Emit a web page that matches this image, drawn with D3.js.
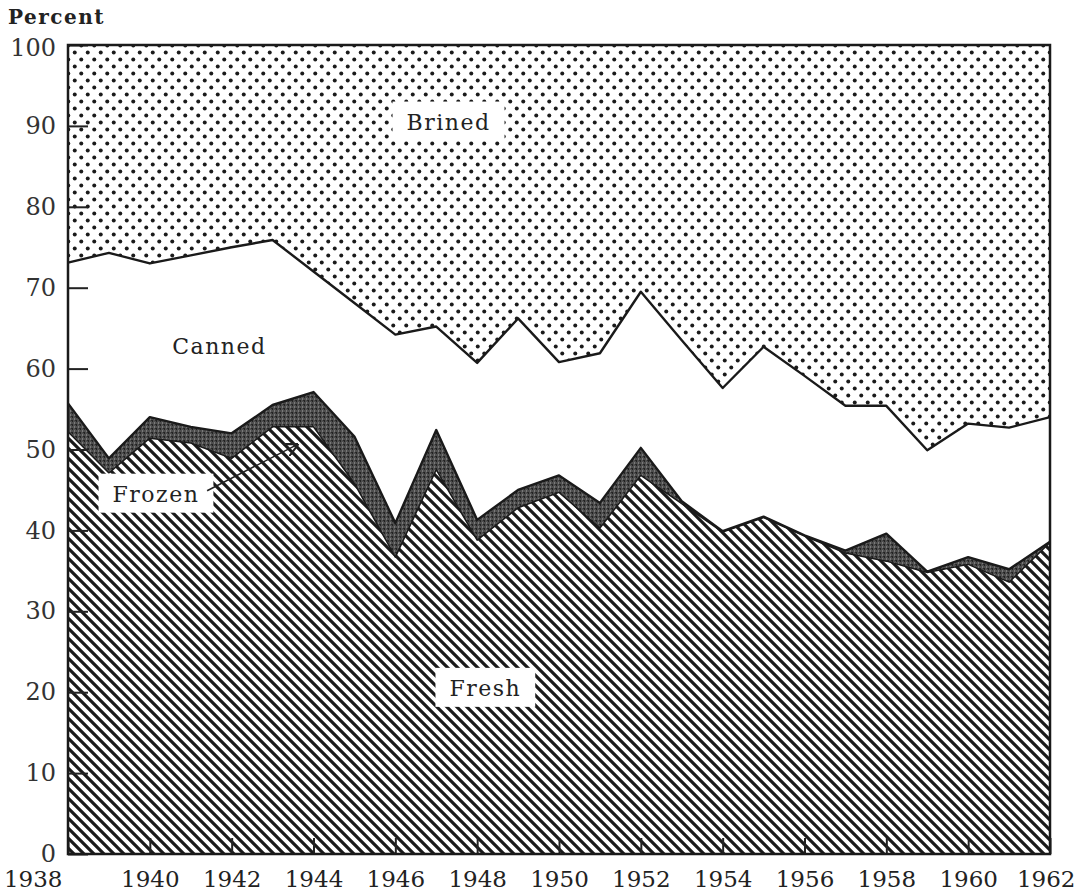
<!DOCTYPE html>
<html>
<head>
<meta charset="utf-8">
<script src="https://cdnjs.cloudflare.com/ajax/libs/d3/7.8.5/d3.min.js"></script>
<style>
  body { margin: 0; background: #fff; }
  text { font-family: "DejaVu Serif", "Liberation Serif", serif; fill: #222; }
</style>
</head>
<body>
<script>
const years = [1938, 1939, 1940, 1941, 1942, 1943, 1944, 1945, 1946, 1947, 1948, 1949, 1950,
               1951, 1952, 1953, 1954, 1955, 1956, 1957, 1958, 1959, 1960, 1961, 1962]
// percent of total use
const fresh  = [52.2, 47.1, 51.4, 50.8, 48.9, 52.8, 52.8, 45.8, 36.7, 47.5, 38.8, 42.8, 44.7,
                40.3, 46.8, 43.3, 39.8, 41.6, 39.3, 37.2, 36.2, 34.8, 35.8, 33.6, 38.5]
const frozen = [3.5, 1.8, 2.6, 2.0, 3.1, 2.7, 4.3, 5.8, 4.2, 4.9, 2.5, 2.2, 2.1,
                3.1, 3.4, 0.3, 0.1, 0.1, 0.1, 0.3, 3.4, 0.1, 0.9, 1.6, 0.1]
const canned = [17.4, 25.4, 19.0, 21.2, 23.0, 20.4, 14.9, 16.5, 23.3, 12.8, 19.4, 21.2, 14.0,
                18.5, 19.3, 19.9, 17.7, 21.0, 19.7, 17.9, 15.8, 15.0, 16.5, 17.5, 15.4]
const brined = [26.9, 25.7, 27.0, 26.0, 25.0, 24.1, 28.0, 31.9, 35.8, 34.8, 39.3, 33.8, 39.2,
                38.1, 30.5, 36.5, 42.4, 37.3, 40.9, 44.6, 44.6, 50.1, 46.8, 47.3, 46.0]
const series = ['Fresh', 'Frozen', 'Canned', 'Brined']
const yTicks = [0, 10, 20, 30, 40, 50, 60, 70, 80, 90, 100]
const xTicks = [1938, 1940, 1942, 1944, 1946, 1948, 1950, 1952, 1954, 1956, 1958, 1960, 1962]

const rows = years.map((yr, i) => ({
    year: yr, Fresh: fresh[i], Frozen: frozen[i], Canned: canned[i], Brined: brined[i]
}))

const W = 1078, H = 893
const x = d3.scaleLinear().domain([1938, 1962]).range([68, 1050])
const y = d3.scaleLinear().domain([0, 100]).range([854, 45])

const svg = d3.select('body').append('svg')
    .attr('width', W)
    .attr('height', H)

const defs = svg.append('defs')

// dots for brined
const dots = defs.append('pattern')
    .attr('id', 'dots')
    .attr('patternUnits', 'userSpaceOnUse')
    .attr('width', 13).attr('height', 14)
dots.append('rect').attr('width', 13).attr('height', 14).attr('fill', '#fff')
dots.append('circle').attr('cx', 3.25).attr('cy', 3.5).attr('r', 2).attr('fill', '#1a1a1a')
dots.append('circle').attr('cx', 9.75).attr('cy', 10.5).attr('r', 2).attr('fill', '#1a1a1a')

// diagonal hatch for fresh
const hatch = defs.append('pattern')
    .attr('id', 'hatch')
    .attr('patternUnits', 'userSpaceOnUse')
    .attr('width', 10).attr('height', 10)
hatch.append('rect').attr('width', 10).attr('height', 10).attr('fill', '#fff')
hatch.append('path')
    .attr('d', 'M-5,5 L5,15 M0,0 L10,10 M5,-5 L15,5')
    .attr('stroke', '#1a1a1a')
    .attr('stroke-width', 3.2)

// dark stipple for frozen
const stip = defs.append('pattern')
    .attr('id', 'stip')
    .attr('patternUnits', 'userSpaceOnUse')
    .attr('width', 4).attr('height', 4)
stip.append('rect').attr('width', 4).attr('height', 4).attr('fill', '#4e4e4e')
stip.append('rect').attr('x', 0).attr('y', 0).attr('width', 1).attr('height', 2).attr('fill', '#222')
stip.append('rect').attr('x', 2).attr('y', 2).attr('width', 1).attr('height', 2).attr('fill', '#7a7a7a')
stip.append('rect').attr('x', 3).attr('y', 0).attr('width', 1).attr('height', 1).attr('fill', '#2a2a2a')

const fills = { Fresh: 'url(#hatch)', Frozen: 'url(#stip)', Canned: '#fff', Brined: 'url(#dots)' }

const stack = d3.stack().keys(series)
const layers = stack(rows)

const area = d3.area()
    .x(d => x(d.data.year))
    .y0(d => y(d[0]))
    .y1(d => y(d[1]))

svg.selectAll('.layer')
    .data(layers)
    .enter()
    .append('path')
    .classed('layer', true)
    .attr('d', area)
    .attr('fill', d => fills[d.key])

// boundary lines between layers
const topLine = d3.line()
    .x(d => x(d.data.year))
    .y(d => y(d[1]))

svg.selectAll('.edge')
    .data(layers.slice(0, 3))
    .enter()
    .append('path')
    .classed('edge', true)
    .attr('d', topLine)
    .attr('fill', 'none')
    .attr('stroke', '#1a1a1a')
    .attr('stroke-width', d => d.key == 'Fresh' ? 1.5 : 2.4)
    .attr('stroke-linejoin', 'round')

// axes
const yAxis = d3.axisLeft(y)
    .tickValues(yTicks)
    .tickSizeInner(-20)
    .tickSizeOuter(0)
    .tickPadding(12)
    .tickFormat(d3.format('d'))

const gy = svg.append('g')
    .attr('transform', 'translate(' + x(1938) + ',0)')
    .call(yAxis)
gy.select('.domain').remove()
gy.selectAll('line').attr('stroke', '#222').attr('stroke-width', 2)
gy.selectAll('text')
    .style('font-size', '24px')
    .style('fill', '#333')
gy.selectAll('.tick')
    .filter(d => d == 100)
    .select('text')
    .attr('dy', '0.42em')

const xAxis = d3.axisBottom(x)
    .tickValues(xTicks)
    .tickSizeInner(-16)
    .tickSizeOuter(0)
    .tickPadding(17)
    .tickFormat(d3.format('d'))

const gx = svg.append('g')
    .attr('transform', 'translate(0,' + y(0) + ')')
    .call(xAxis)
gx.select('.domain').remove()
gx.selectAll('line').attr('stroke', '#222').attr('stroke-width', 2)
gx.selectAll('text')
    .style('font-size', '23px')
    .style('fill', '#222')
gx.selectAll('.tick')
    .filter(d => d == 1938)
    .select('text')
    .attr('text-anchor', 'end')
    .attr('x', -6)
gx.selectAll('.tick')
    .filter(d => d == 1962)
    .select('text')
    .attr('text-anchor', 'end')
    .attr('x', 25)

// frame
svg.append('rect')
    .attr('x', x(1938))
    .attr('y', y(100))
    .attr('width', x(1962) - x(1938))
    .attr('height', y(0) - y(100))
    .attr('fill', 'none')
    .attr('stroke', '#1a1a1a')
    .attr('stroke-width', 2.5)

svg.append('text')
    .text('Percent')
    .attr('x', 8)
    .attr('y', 24)
    .style('font-size', '20px')
    .style('font-weight', 'bold')
    .style('letter-spacing', '1.5px')

// category labels
const labels = [
    { name: 'Brined', yr: 1947.3, v: 90.5, box: true },
    { name: 'Canned', yr: 1941.7, v: 62.7, box: false },
    { name: 'Fresh', yr: 1948.2, v: 20.5, box: true },
    { name: 'Frozen', yr: 1940.15, v: 44.5, box: true }
]

labels.forEach(function(l) {
    const t = svg.append('text')
        .text(l.name)
        .attr('x', x(l.yr))
        .attr('y', y(l.v))
        .attr('dy', '0.35em')
        .attr('text-anchor', 'middle')
        .style('font-size', '22px')
        .style('letter-spacing', '1.5px')
    if (l.box) {
        const b = t.node().getBBox()
        svg.insert('rect', () => t.node())
            .attr('x', b.x - 14)
            .attr('y', b.y - 8)
            .attr('width', b.width + 28)
            .attr('height', b.height + 14)
            .attr('fill', '#fff')
    }
})

// arrow from Frozen label up into the frozen band
defs.append('marker')
    .attr('id', 'head')
    .attr('viewBox', '0 0 10 10')
    .attr('refX', 9).attr('refY', 5)
    .attr('markerWidth', 14).attr('markerHeight', 14)
    .attr('markerUnits', 'userSpaceOnUse')
    .attr('orient', 'auto')
    .append('path')
    .attr('d', 'M0,0 L10,5 L0,10')
    .attr('fill', 'none')
    .attr('stroke', '#222')
    .attr('stroke-width', 1.5)

svg.append('line')
    .attr('x1', x(1941.4)).attr('y1', y(44.9))
    .attr('x2', x(1943.6)).attr('y2', y(50.6))
    .attr('stroke', '#222')
    .attr('stroke-width', 1.5)
    .attr('marker-end', 'url(#head)')
</script>
</body>
</html>
